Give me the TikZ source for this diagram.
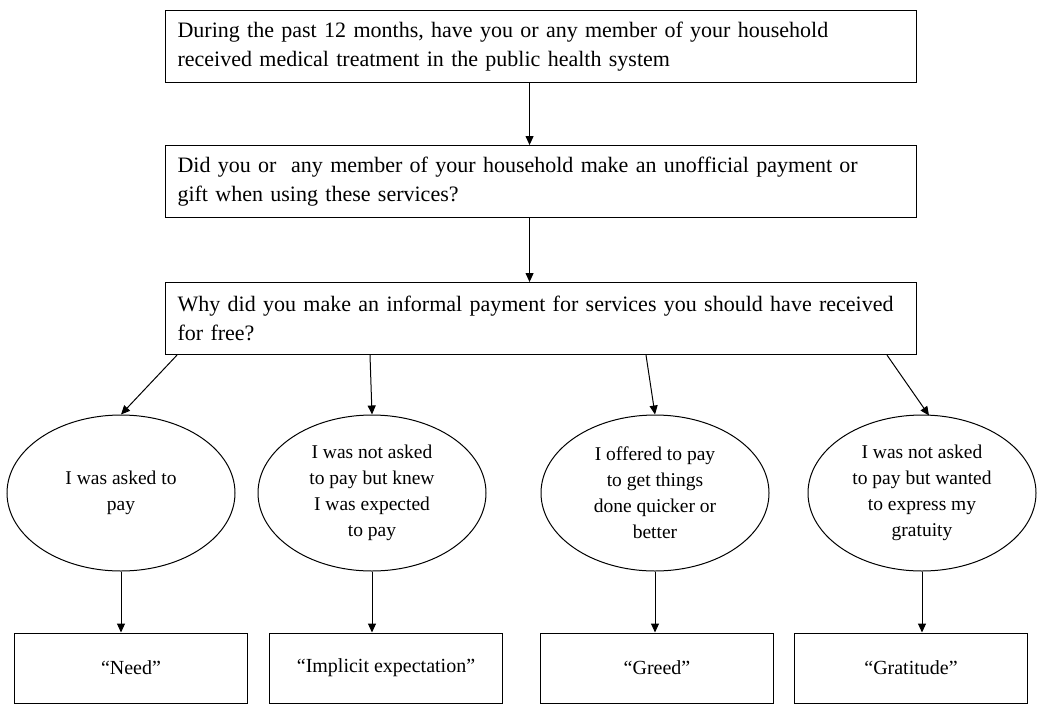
\documentclass[tikz,border=0pt]{standalone}
\usepackage{fontspec}
\setmainfont{Liberation Serif}
\usetikzlibrary{shapes.geometric,arrows.meta,calc}
\begin{document}
\begin{tikzpicture}[x=1pt,y=-1pt,
  qbox/.style={draw,line width=1.1pt,minimum width=751pt,minimum height=72pt,text width=727pt,align=left,inner xsep=12pt,inner ysep=0pt,font=\fontsize{22}{29}\selectfont,anchor=north west},
  ell/.style={draw,ellipse,line width=1pt,minimum width=228pt,minimum height=156pt,inner sep=0pt,align=center,font=\fontsize{19.5}{26}\selectfont},
  rbox/.style={draw,line width=1pt,minimum width=233pt,minimum height=70pt,inner sep=0pt,font=\fontsize{20}{26}\selectfont},
  arr/.style={line width=1pt,-{Triangle[length=9pt,width=8pt]}}
]
\useasboundingbox[fill=white] (0,0) rectangle (1062,705);
\node[qbox] (q1) at (165,10) {During the past 12 months, have you or any member of your household\\received medical treatment in the public health system};
\node[qbox] (q2) at (165,145) {Did you or \ any member of your household make an unofficial payment or\\gift when using these services?};
\node[qbox] (q3) at (165,282) {Why did you make an informal payment for services you should have received\\for free?};
\node[ell] (e1) at (121,493) {I was asked to\\pay};
\node[ell] (e2) at (372,493) {I was not asked\\to pay but knew\\I was expected\\to pay};
\node[ell] (e3) at (655,493) {I offered to pay\\to get things\\done quicker or\\better};
\node[ell] (e4) at (922,493) {I was not asked\\to pay but wanted\\to express my\\gratuity};
\node[rbox] (b1) at (131,668) {“Need”};
\node[rbox] (b2) at (386,668) {“Implicit expectation”};
\node[rbox] (b3) at (657,668) {“Greed”};
\node[rbox] (b4) at (911,668) {“Gratitude”};
\draw[arr] ($(q1.south)+(-11.5,0)$) -- ($(q2.north)+(-11.5,0)$);
\draw[arr] ($(q2.south)+(-11.5,0)$) -- ($(q3.north)+(-11.5,0)$);
\coordinate (s1) at ($(q3.south west)+(12,0)$);
\coordinate (s2) at ($(q3.south west)+(205,0)$);
\coordinate (s3) at ($(q3.south west)+(481,0)$);
\coordinate (s4) at ($(q3.south west)+(722,0)$);
\draw[arr] (s1) -- (e1.north);
\draw[arr] (s2) -- (e2.north);
\draw[arr] (s3) -- (e3.north);
\draw[arr] (s4) -- ($(e4.north)+(7,1)$);
\foreach \i in {1,2,3,4} \draw[arr] (e\i.south) -- (e\i.south |- b\i.north);
\end{tikzpicture}
\end{document}
